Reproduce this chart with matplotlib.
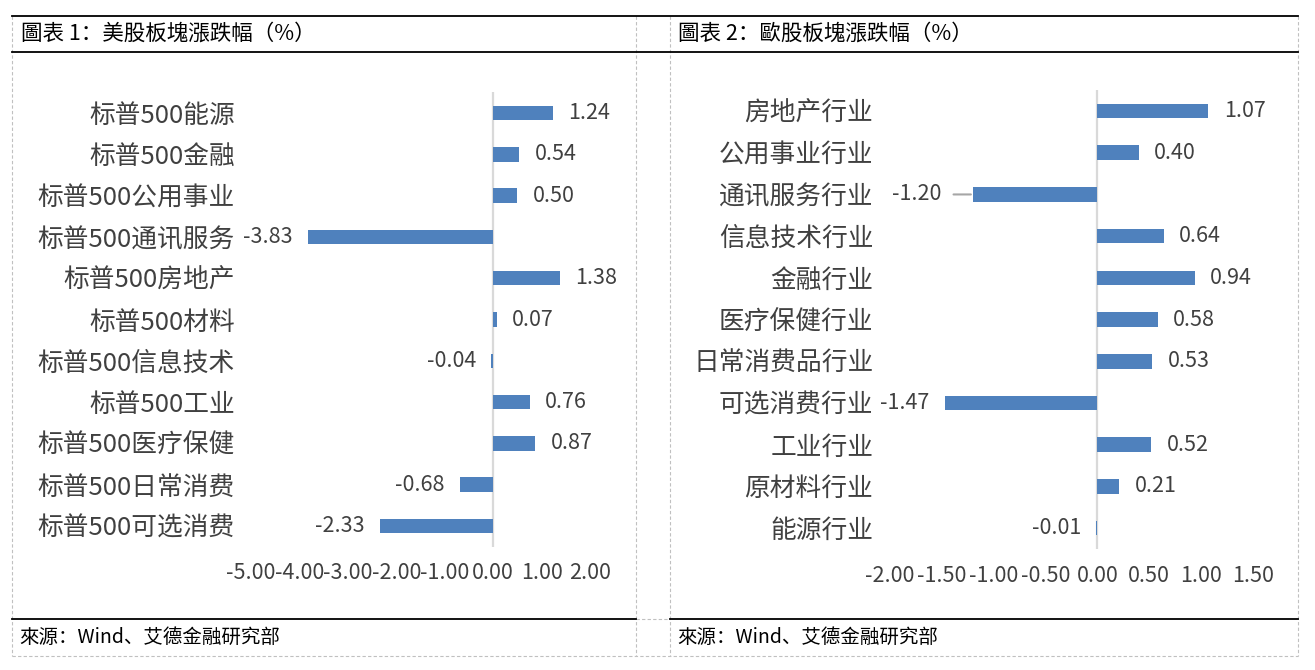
import matplotlib
matplotlib.use("Agg")
import matplotlib.pyplot as plt
from matplotlib.lines import Line2D

plt.rcParams["font.family"] = ["Noto Sans CJK SC", "DejaVu Sans"]
plt.rcParams["axes.unicode_minus"] = False

# ── data ────────────────────────────────────────────────────────────────────
us_title = "圖表 1：美股板塊漲跌幅（%）"
us_sectors = ["标普500能源", "标普500金融", "标普500公用事业", "标普500通讯服务",
              "标普500房地产", "标普500材料", "标普500信息技术", "标普500工业",
              "标普500医疗保健", "标普500日常消费", "标普500可选消费"]
us_changes = [1.24, 0.54, 0.50, -3.83, 1.38, 0.07, -0.04, 0.76, 0.87, -0.68, -2.33]
us_ticks = [-5.0, -4.0, -3.0, -2.0, -1.0, 0.0, 1.0, 2.0]

eu_title = "圖表 2：歐股板塊漲跌幅（%）"
eu_sectors = ["房地产行业", "公用事业行业", "通讯服务行业", "信息技术行业", "金融行业",
              "医疗保健行业", "日常消费品行业", "可选消费行业", "工业行业",
              "原材料行业", "能源行业"]
eu_changes = [1.07, 0.40, -1.20, 0.64, 0.94, 0.58, 0.53, -1.47, 0.52, 0.21, -0.01]
eu_ticks = [-2.0, -1.5, -1.0, -0.5, 0.0, 0.5, 1.0, 1.5]
eu_leader = ["通讯服务行业"]   # label pulled away with a leader line

source = "來源：Wind、艾德金融研究部"

BAR = "#4F81BD"
TXT = "#404040"
GRID = "#D9D9D9"
DASH = "#C0C0C0"

W, H = 1315, 670
fig = plt.figure(figsize=(W / 100, H / 100), dpi=100)
fig.patch.set_facecolor("white")


def px_axes(left, right, top, bottom):
    return fig.add_axes([left / W, 1 - bottom / H, (right - left) / W, (bottom - top) / H])


def hline(x0, x1, y, **kw):
    fig.add_artist(Line2D([x0 / W, x1 / W], [1 - y / H, 1 - y / H], transform=fig.transFigure, **kw))


def vline(x, y0, y1, **kw):
    fig.add_artist(Line2D([x / W, x / W], [1 - y0 / H, 1 - y1 / H], transform=fig.transFigure, **kw))


# ── table frame ─────────────────────────────────────────────────────────────
dash = dict(color=DASH, lw=0.8, ls=(0, (3, 2)))
solid = dict(color="black", lw=1.3)
for x in [12, 636, 670, 1298]:
    vline(x, 16, 656, **dash)
hline(12, 1298, 656, **dash)
hline(636, 670, 619, **dash)
hline(12, 1298, 16, **solid)
hline(12, 1298, 52, **solid)
hline(12, 636, 619, **solid)
hline(670, 1298, 619, **solid)

fig.text(21 / W, 1 - 34 / H, us_title, fontsize=15.5, va="center", ha="left", color="black")
fig.text(678 / W, 1 - 34 / H, eu_title, fontsize=15.5, va="center", ha="left", color="black")
fig.text(19 / W, 1 - 637 / H, source, fontsize=14, va="center", ha="left", color="black")
fig.text(677 / W, 1 - 637 / H, source, fontsize=14, va="center", ha="left", color="black")


def draw_panel(ax, cats, vals, ticks, ypad, xpad, leader=()):
    pos = list(range(len(cats)))
    ax.barh(pos, vals, height=0.35, color=BAR, zorder=3)
    ax.axvline(0, color=GRID, lw=1.6, zorder=2)
    ax.set_xlim(ticks[0], ticks[-1])
    ax.set_ylim(len(cats) - 0.5, -0.5)
    ax.set_yticks(pos)
    ax.set_yticklabels(cats, fontsize=18.5, color=TXT)
    ax.set_xticks(ticks)
    ax.set_xticklabels([f"{t:.2f}" for t in ticks], fontsize=15.5, color=TXT)
    ax.tick_params(axis="y", length=0, pad=ypad)
    ax.tick_params(axis="x", length=0, pad=xpad)
    for s in ax.spines.values():
        s.set_visible(False)
    for c, p, v in zip(cats, pos, vals):
        off = 11 if v >= 0 else -11
        ha = "left" if v >= 0 else "right"
        if c in leader:
            ax.annotate(f"{v:.2f}", xy=(v, p), xytext=(-23, 0), textcoords="offset points",
                        ha="right", va="center", fontsize=15.5, color=TXT,
                        arrowprops=dict(arrowstyle="-", color="#A6A6A6", lw=1.5,
                                        shrinkA=7, shrinkB=1.5))
        else:
            ax.annotate(f"{v:.2f}", xy=(v, p), xytext=(off, 0), textcoords="offset points",
                        ha=ha, va="center", fontsize=15.5, color=TXT)


ax1 = px_axes(251, 590, 92.4, 546.6)
draw_panel(ax1, us_sectors, us_changes, us_ticks, ypad=11.5, xpad=11)

ax2 = px_axes(890, 1253, 90.2, 548.9)
draw_panel(ax2, eu_sectors, eu_changes, eu_ticks, ypad=12, xpad=11.5, leader=eu_leader)

fig.savefig("out.png", dpi=100, facecolor="white")
